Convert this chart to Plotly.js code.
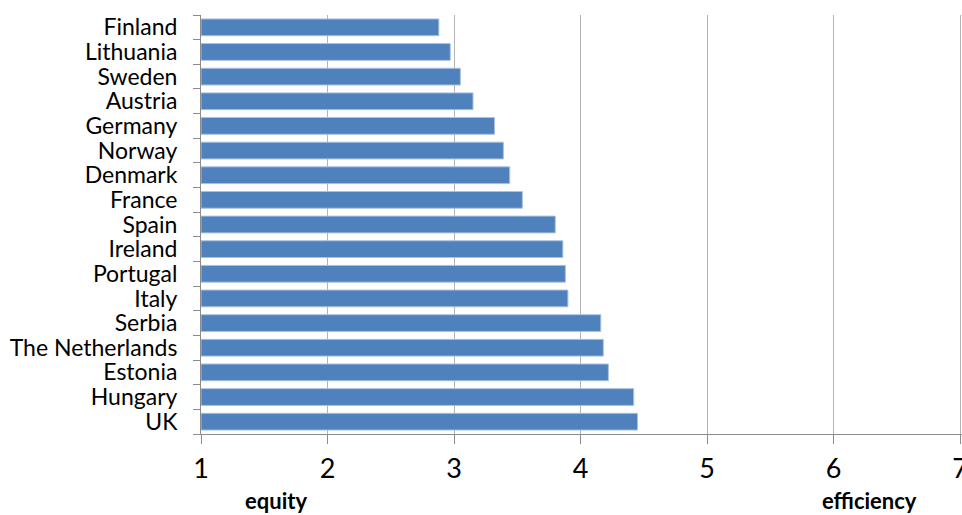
<!DOCTYPE html>
<html>
<head>
<meta charset="utf-8">
<script src="https://cdn.plot.ly/plotly-3.0.1.min.js"></script>
<style>html,body{margin:0;padding:0;background:#fff}#chart{width:962px;height:515px}</style>
</head>
<body>
<div id="chart"></div>
<script>
const countries = ["Finland","Lithuania","Sweden","Austria","Germany","Norway","Denmark","France","Spain","Ireland","Portugal","Italy","Serbia","The Netherlands","Estonia","Hungary","UK"];
const scores = [2.88,2.97,3.05,3.15,3.32,3.39,3.44,3.54,3.80,3.86,3.88,3.90,4.16,4.18,4.22,4.42,4.45];
const xTicks = [1,2,3,4,5,6,7];
const axisLabels = ["equity","efficiency"];
const axisLabelPos = [1.59,6.28];

const trace = {
  type: "bar",
  orientation: "h",
  y: countries,
  x: scores.map(v => v - 1),
  base: 1,
  marker: {color: "#4f81bd", line: {color: "#a9c1e0", width: 1}},
  hoverinfo: "x+y"
};

const layout = {
  width: 962, height: 515,
  margin: {l: 201, r: 0, t: 15, b: 81},
  paper_bgcolor: "#fff", plot_bgcolor: "#fff",
  showlegend: false,
  bargap: 0.32,
  font: {family: "Lato, 'Open Sans', sans-serif", color: "#000"},
  xaxis: {
    range: [1, 7.015],
    tickmode: "array",
    tickvals: xTicks,
    ticktext: xTicks.map(String),
    showgrid: true, gridcolor: "#b4b4b4", gridwidth: 1,
    zeroline: false,
    showline: true, linecolor: "#8c8c8c", linewidth: 1,
    ticks: "outside", ticklen: 9, tickcolor: "#8c8c8c",
    ticklabelstandoff: 2,
    ticklabeloverflow: "allow",
    tickfont: {size: 27, family: "Lato, sans-serif", color: "#000"}
  },
  yaxis: {
    type: "category",
    autorange: "reversed",
    tickmode: "array",
    tickvals: countries,
    ticktext: countries,
    showgrid: false,
    showline: true, linecolor: "#8c8c8c", linewidth: 1,
    ticks: "outside", ticklen: 7, tickcolor: "#8c8c8c",
    tickson: "boundaries",
    ticklabelstandoff: 18,
    tickfont: {size: 23, family: "Lato, sans-serif", color: "#000"}
  },
  annotations: axisLabels.map((t, i) => ({
    text: "<b>" + t + "</b>",
    x: axisLabelPos[i], xref: "x",
    y: -0.158, yref: "paper",
    xanchor: "center", yanchor: "middle",
    showarrow: false,
    font: {size: 22, family: "Lato, sans-serif", color: "#000"}
  }))
};

Plotly.newPlot("chart", [trace], layout, {displayModeBar: false, staticPlot: true});
</script>
</body>
</html>
